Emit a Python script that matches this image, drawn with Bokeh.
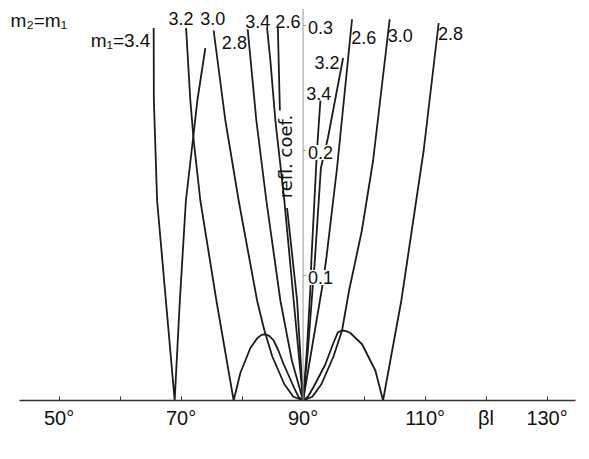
from bokeh.plotting import figure
from bokeh.models import Range1d, FixedTicker, Label, Span
from bokeh.embed import file_html
from bokeh.resources import INLINE

nan = float("nan")

# ---- data (beta*l in degrees, reflection coefficient) ----
m34_x = [65.51, 65.54, 66.07, 67.51, 68.95, 69.80, 70.79, 71.93, 72.67, 73.98, nan,
         84.10, 84.64, 85.46, 86.93, 88.46, 90.00, 90.62, 91.20, 91.36, 92.13, 92.39, 92.84]
m34_y = [0.298, 0.240, 0.160, 0.080, 0.000, 0.080, 0.160, 0.208, 0.240, 0.282, nan,
         0.298, 0.272, 0.224, 0.160, 0.080, 0.000, 0.040, 0.090, 0.112, 0.186, 0.208, 0.240]

m32_x = [70.82, 71.52, 72.07, 73.16, 75.79, 78.62, 79.72, 81.36, 82.51, 83.20, 83.82, 84.50, 85.18, 85.95,
         86.82, 88.46, 89.23, 90.00, 90.79, 91.57, 91.93, 92.92, 94.07, 96.56]
m32_y = [0.298, 0.240, 0.208, 0.160, 0.080, 0.000, 0.022, 0.042, 0.050, 0.0525, 0.053, 0.0515, 0.048, 0.040,
         0.029, 0.011, 0.003, 0.000, 0.040, 0.090, 0.112, 0.186, 0.210, 0.274]

m30_x = [75.34, 77.26, 79.44, 82.46, 83.61, 84.97, 86.93, 88.41, 90.00, 91.52, 93.00, 94.97,
         96.39, 97.54, 99.64, 101.48, 104.20]
m30_y = [0.296, 0.224, 0.160, 0.080, 0.057, 0.035, 0.013, 0.003, 0.000, 0.003, 0.013, 0.035,
         0.056, 0.088, 0.136, 0.192, 0.305]

m28_x = [80.92, 82.34, 83.98, 86.28, 88.16, 90.00, 90.79, 91.74, 93.66, 94.97, 95.70, 96.39, 97.05, 97.75,
         99.67, 101.85, 103.11, 106.11, 109.77, 112.23]
m28_y = [0.297, 0.224, 0.160, 0.080, 0.032, 0.000, 0.003, 0.011, 0.029, 0.046, 0.0545, 0.056, 0.0555, 0.054,
         0.045, 0.024, 0.000, 0.080, 0.200, 0.302]

m26_x = [85.87, 86.20, nan, 87.38, 89.02, 90.00, 91.38, 93.11, 93.77, 95.57, 98.03]
m26_y = [0.298, 0.232, nan, 0.154, 0.080, 0.000, 0.040, 0.090, 0.112, 0.186, 0.305]

curves = [(m34_x, m34_y), (m32_x, m32_y), (m30_x, m30_y), (m28_x, m28_y), (m26_x, m26_y)]

# curve labels (m1 values)
curve_label_text = ["3.2", "3.0", "2.8", "3.4", "2.6", "3.2", "3.4", "2.6", "3.0", "2.8"]
curve_label_x = [69.97, 75.21, 78.74, 82.59, 87.51, 93.93, 92.56, 99.93, 105.95, 114.15]
curve_label_y = [0.3054, 0.3056, 0.2866, 0.3032, 0.3032, 0.2706, 0.2458, 0.2902, 0.2920, 0.2936]

# axes
x_ticks = [50, 60, 70, 80, 90, 100, 110, 120, 130]
x_tick_labels = ["50°", "", "70°", "", "90°", "", "110°", "βl", "130°"]
x_axis_extent = (43.51, 134.66)
refl_axis_at = 90
y_ticks = [0.1, 0.2, 0.3]
y_tick_labels = ["0.1", "0.2", "0.3"]

FONT = "Liberation Sans"
INK = "#1c1c1c"

p = figure(output_backend="svg", toolbar_location=None,
           frame_width=567, frame_height=392,
           min_border_left=8, min_border_right=6, min_border_top=8, min_border_bottom=48,
           x_range=Range1d(41.71, 134.66), y_range=Range1d(0, 0.3136),
           y_axis_location=None)
p.outline_line_color = None
p.grid.visible = False
p.background_fill_color = "white"

ax = p.xaxis[0]
ax.bounds = x_axis_extent
ax.ticker = FixedTicker(ticks=x_ticks)
ax.major_label_overrides = {t: s for t, s in zip(x_ticks, x_tick_labels)}
ax.minor_tick_line_color = None
ax.major_tick_in = 4
ax.major_tick_out = 0
ax.axis_line_color = "#333333"
ax.axis_line_width = 1.5
ax.major_tick_line_color = "#333333"
ax.major_label_text_font = FONT
ax.major_label_text_font_size = "20px"
ax.major_label_text_color = "#111111"
ax.major_label_standoff = 6

# vertical refl. coef. axis at 90 deg
p.add_layout(Span(location=refl_axis_at, dimension="height", line_color="#9a9a9a", line_width=1))
p.segment(x0=[refl_axis_at] * len(y_ticks), y0=y_ticks,
          x1=[refl_axis_at + 0.45] * len(y_ticks), y1=y_ticks,
          line_color="#9a9a9a", line_width=1)

for cx, cy in curves:
    p.line(cx, cy, line_color=INK, line_width=1.8, line_join="round")

for t, yv in zip(y_tick_labels, y_ticks):
    p.add_layout(Label(x=refl_axis_at, y=yv, text=t, x_offset=4, y_offset=-2,
                       text_align="left", text_baseline="middle",
                       text_font=FONT, text_font_size="18px", text_color="#111111",
                       background_fill_color="white", padding=1))

for t, xv, yv in zip(curve_label_text, curve_label_x, curve_label_y):
    p.add_layout(Label(x=xv, y=yv, text=t, text_align="center", text_baseline="middle",
                       text_font=FONT, text_font_size="18px", text_color="#111111"))

p.add_layout(Label(x=42.05, y=0.304, text="m₂=m₁", text_align="left", text_baseline="middle",
                   text_font=FONT, text_font_size="19px", text_color="#111111"))
p.add_layout(Label(x=64.97, y=0.288, text="m₁=3.4", text_align="right", text_baseline="middle",
                   text_font=FONT, text_font_size="19px", text_color="#111111"))
p.add_layout(Label(x=87.18, y=0.1952, text="refl. coef.", angle=1.5708,
                   text_align="center", text_baseline="middle",
                   text_font="DejaVu Sans", text_font_size="18px", text_color="#111111"))

open("out.html", "w").write(file_html(p, INLINE))
